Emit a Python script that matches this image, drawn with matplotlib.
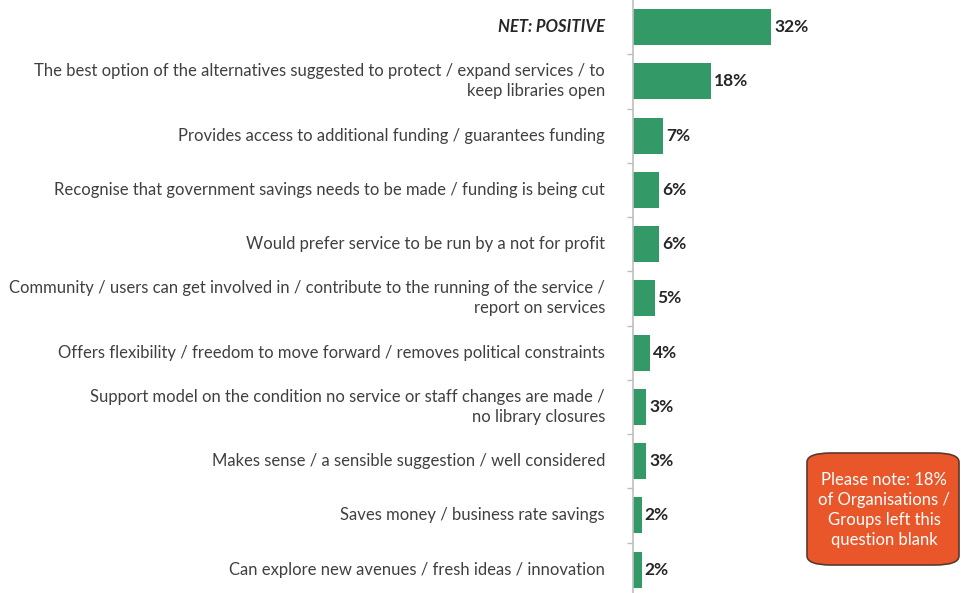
import numpy as np
import matplotlib.pyplot as plt
from matplotlib.patches import FancyBboxPatch

plt.rcParams['font.family'] = ['Lato', 'DejaVu Sans']

labels = [
    "NET: POSITIVE",
    "The best option of the alternatives suggested to protect / expand services / to\nkeep libraries open",
    "Provides access to additional funding / guarantees funding",
    "Recognise that government savings needs to be made / funding is being cut",
    "Would prefer service to be run by a not for profit",
    "Community / users can get involved in / contribute to the running of the service /\nreport on services",
    "Offers flexibility / freedom to move forward / removes political constraints",
    "Support model on the condition no service or staff changes are made /\nno library closures",
    "Makes sense / a sensible suggestion / well considered",
    "Saves money / business rate savings",
    "Can explore new avenues / fresh ideas / innovation",
]
values = [32, 18, 7, 6, 6, 5, 4, 3, 3, 2, 2]

bar_color = "#339966"
text_color = "#404040"

fig = plt.figure(figsize=(9.61, 5.93), dpi=100)
ax = fig.add_axes([633 / 961, -3.75 / 593, 1 - 633 / 961, 596.75 / 593])

y = np.arange(len(values))
ax.barh(y, values, height=0.66, color=bar_color)
ax.set_xlim(0, 76)
ax.set_ylim(len(values) - 0.5, -0.5)

for yi, v in zip(y, values):
    ax.text(v + 0.7, yi, f"{v}%", va="center", ha="left", fontsize=12.5,
            fontweight="bold", color="#262626")

for i, (yi, lab) in enumerate(zip(y, labels)):
    if i == 0:
        ax.text(-0.085, yi, lab, transform=ax.get_yaxis_transform(), ha="right",
                va="center", fontsize=12, fontweight="bold", style="italic",
                color="#262626")
    else:
        ax.text(-0.085, yi, lab, transform=ax.get_yaxis_transform(), ha="right",
                va="center", fontsize=12, color=text_color, linespacing=1.3)

for s in ["top", "right", "bottom"]:
    ax.spines[s].set_visible(False)
ax.spines["left"].set_color("#BFBFBF")
ax.spines["left"].set_linewidth(1.2)
ax.set_xticks([])
ax.set_yticks([])
ax.set_yticks(np.arange(0.5, len(values) - 0.5, 1), minor=True)
ax.tick_params(axis="y", which="minor", length=4, color="#BFBFBF", width=1)

# note box
box = FancyBboxPatch((807 / 961, (593 - 565) / 593), 152 / 961, 112 / 593,
                     boxstyle="round,pad=0,rounding_size=0.025",
                     transform=fig.transFigure, facecolor="#E8562A",
                     edgecolor="#5A3A30", linewidth=1.2, mutation_aspect=593 / 961)
fig.patches.append(box)
fig.text(884 / 961, (593 - 510) / 593,
         "Please note: 18%\nof Organisations /\nGroups left this\nquestion blank",
         ha="center", va="center", color="white", fontsize=12, linespacing=1.3)

fig.savefig("out.png", dpi=100)
